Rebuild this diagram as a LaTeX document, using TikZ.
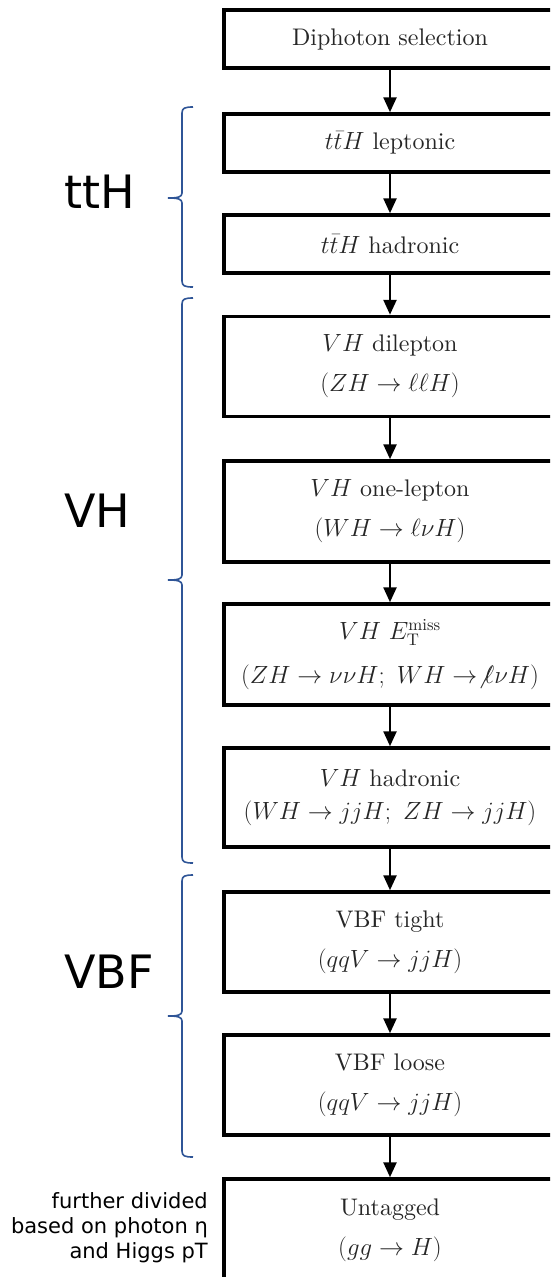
\documentclass[tikz,border=0pt]{standalone}
\usepackage{fontspec}
\setmainfont{lmroman10-regular.otf}[ItalicFont=lmroman10-italic.otf, BoldFont=lmroman10-bold.otf]
\usetikzlibrary{arrows.meta}
\newfontfamily\labfont{DejaVu Sans}
\definecolor{bracecol}{RGB}{47,85,151}
\begin{document}
\begin{tikzpicture}[x=1pt,y=-1pt,
  box/.style={draw=black, line width=3.5pt, rectangle, minimum width=332pt, inner sep=0pt,
    align=center, text=black!85, font=\fontsize{24}{40}\selectfont},
  onebox/.style={box, minimum height=58pt},
  twobox/.style={box, minimum height=100pt},
  arr/.style={line width=2.5pt, -{Triangle[length=15pt,width=13pt]}},
  brace/.style={draw=bracecol, line width=1.6pt},
  grplabel/.style={anchor=west, inner sep=0pt, font=\labfont\fontsize{46}{50}\selectfont},
  note/.style={anchor=east, inner sep=0pt, align=right, font=\labfont\fontsize{21}{25}\selectfont}]
\clip (0,0) rectangle (550,1277);
\fill[white] (0,0) rectangle (550,1277);

% boxes
\node[onebox] (b1) at (390,39) {Diphoton selection};
\node[onebox] (b2) at (390,143) {$t\bar{t}H$ leptonic};
\node[onebox] (b3) at (390,244) {$t\bar{t}H$ hadronic};
\node[twobox] (b4) at (390,366.5) {$VH$ dilepton\\$(ZH\to\ell\ell H)$};
\node[twobox, minimum height=101pt] (b5) at (390,511.5) {$VH$ one-lepton\\$(WH\to\ell\nu H)$};
\node[twobox, minimum height=101pt] (b6) at (390,654.5) {$VH$ $E_{\mathrm{T}}^{\mathrm{miss}}$\\[4pt]$(ZH\to\nu\nu H;\ WH\to\not\ell\nu H)$};
\node[twobox, minimum height=99pt] (b7) at (390,797.5) {$VH$ hadronic\\[-7pt]$(WH\to jjH;\ ZH\to jjH)$};
\node[twobox] (b8) at (390,942) {VBF tight\\$(qqV\to jjH)$};
\node[twobox] (b9) at (390,1085) {VBF loose\\$(qqV\to jjH)$};
\node[twobox, minimum height=102pt] (b10) at (390,1230) {Untagged\\$(gg\to H)$};

% arrows
\draw[arr] (b1.south) -- (b2.north);
\draw[arr] (b2.south) -- (b3.north);
\draw[arr] (b3.south) -- (b4.north);
\draw[arr] (b4.south) -- (b5.north);
\draw[arr] (b5.south) -- (b6.north);
\draw[arr] (b6.south) -- (b7.north);
\draw[arr] (b7.south) -- (b8.north);
\draw[arr] (b8.south) -- (b9.north);
\draw[arr] (b9.south) -- (b10.north);

% braces
\draw[brace] (193,107) .. controls (185,107) and (182,108) .. (182,113) -- (182,193)
  .. controls (182,197) and (178,198) .. (168,198)
  .. controls (178,198) and (182,199) .. (182,203) -- (182,281)
  .. controls (182,286) and (185,287) .. (193,287);
\draw[brace] (193,298) .. controls (185,298) and (182,299) .. (182,304) -- (182,575)
  .. controls (182,579) and (178,580) .. (168,580)
  .. controls (178,580) and (182,581) .. (182,585) -- (182,857)
  .. controls (182,862) and (185,863) .. (193,863);
\draw[brace] (193,875) .. controls (185,875) and (182,876) .. (182,881) -- (182,1011)
  .. controls (182,1015) and (178,1016) .. (168,1016)
  .. controls (178,1016) and (182,1017) .. (182,1021) -- (182,1151)
  .. controls (182,1156) and (185,1157) .. (193,1157);

% group labels
\node[grplabel] (lt) at (64,192) {ttH};
\node[grplabel] (lv) at (64,511) {VH};
\node[grplabel] (lb) at (64,972) {VBF};

% note
\node[note] (nt) at (208,1228) {further divided\\based on photon η\\and Higgs pT};
\end{tikzpicture}
\end{document}
